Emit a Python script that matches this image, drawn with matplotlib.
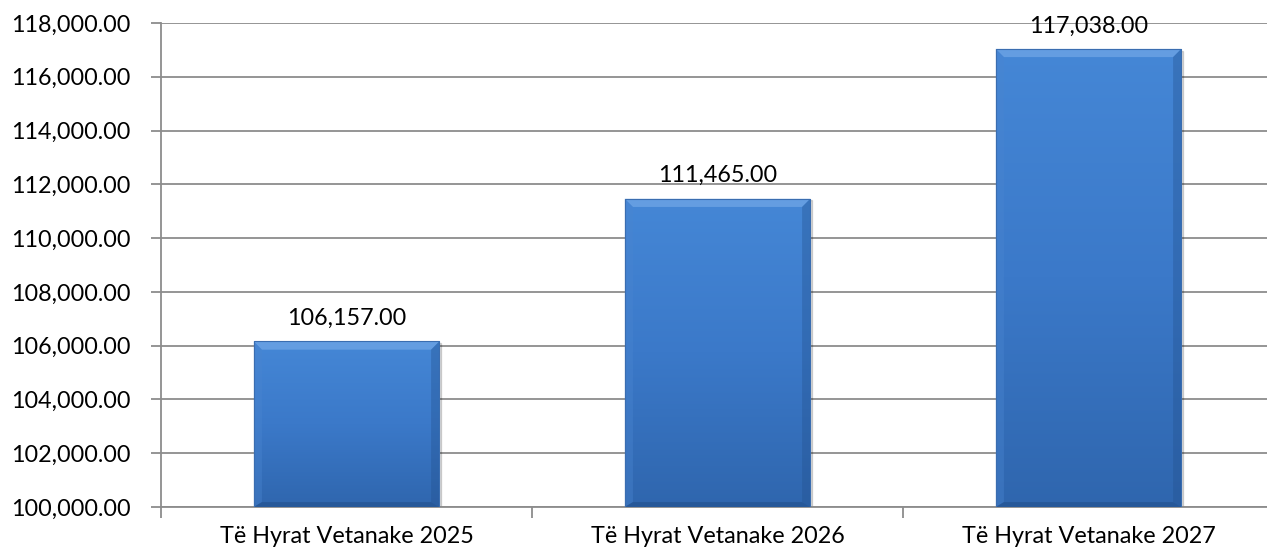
import numpy as np
import matplotlib.pyplot as plt
from matplotlib.patches import Polygon, Rectangle
from matplotlib.ticker import FuncFormatter

plt.rcParams['font.family'] = ['Lato', 'DejaVu Sans']

categories = ["Të Hyrat Vetanake 2025", "Të Hyrat Vetanake 2026", "Të Hyrat Vetanake 2027"]
values = [106157.00, 111465.00, 117038.00]
ymin, ymax, ystep = 100000, 118000, 2000

fig = plt.figure(figsize=(12.67, 5.5), dpi=100)
ax = fig.add_axes([161/1267, 1 - 507/550, (1274 - 161)/1267, (507 - 23)/550])

fs = 16.8
ax.set_xlim(-0.5, 2.5)
ax.set_ylim(ymin, ymax)
ax.set_yticks(np.arange(ymin, ymax + 1, ystep))
ax.yaxis.set_major_formatter(FuncFormatter(lambda v, p: "{:,.2f}".format(v)))
ax.set_xticks(range(len(categories)))
ax.set_xticklabels(categories)
ax.set_xticks([-0.5, 0.5, 1.5, 2.5], minor=True)
ax.tick_params(axis='x', which='major', length=0, labelsize=fs, pad=14)
ax.tick_params(axis='x', which='minor', length=8, color='#8c8c8c', width=1.3)
ax.tick_params(axis='y', length=7, color='#8c8c8c', width=1.3, labelsize=fs, pad=15)
ax.grid(axis='y', color='#8c8c8c', lw=1.3)
ax.set_axisbelow(True)
for s in ['top', 'right']:
    ax.spines[s].set_visible(False)
ax.spines['left'].set_color('#8c8c8c')
ax.spines['bottom'].set_color('#8c8c8c')
ax.spines['left'].set_linewidth(1.3)
ax.spines['bottom'].set_linewidth(1.3)

w = 0.5
grad = np.linspace(0, 1, 256).reshape(-1, 1)
cmap = plt.matplotlib.colors.LinearSegmentedColormap.from_list('b', ['#2f66ae', '#3b79c9', '#4587d6'])
# bevel size in data units
bx = 0.022
by = (ymax - ymin) * 0.017
for i, v in enumerate(values):
    x0, x1 = i - w/2, i + w/2
    # shadow
    ax.add_patch(Rectangle((x0 + 0.005, ymin), w, v - ymin - by*0.2, color='#000000', alpha=0.15, zorder=2))
    im = ax.imshow(grad, extent=[x0, x1, ymin, v], origin='lower', cmap=cmap,
                   aspect='auto', zorder=3)
    clip = Rectangle((x0, ymin), w, v - ymin, transform=ax.transData, facecolor='none', edgecolor='none')
    ax.add_patch(clip)
    im.set_clip_path(clip)
    # bevel edges
    top = Polygon([(x0, v), (x1, v), (x1 - bx, v - by), (x0 + bx, v - by)], color='#7aaeea', alpha=0.6, zorder=4, lw=0)
    left = Polygon([(x0, v), (x0 + bx, v - by), (x0 + bx, ymin + by*0.6), (x0, ymin)], color='#4a85d0', alpha=0.4, zorder=4, lw=0)
    right = Polygon([(x1, v), (x1 - bx, v - by), (x1 - bx, ymin + by*0.6), (x1, ymin)], color='#22508c', alpha=0.35, zorder=4, lw=0)
    bottom = Polygon([(x0, ymin), (x1, ymin), (x1 - bx, ymin + by*0.6), (x0 + bx, ymin + by*0.6)], color='#1f4c85', alpha=0.5, zorder=4, lw=0)
    for p in (top, left, right, bottom):
        ax.add_patch(p)
    ax.add_patch(Rectangle((x0, ymin), w, v - ymin, facecolor='none', edgecolor='#3a6db0', lw=0.8, zorder=5))
    ax.annotate("{:,.2f}".format(v), (i, v), xytext=(0, 9), textcoords='offset points',
                ha='center', va='bottom', fontsize=fs, zorder=6)

ax.set_xlim(-0.5, 2.5)
ax.set_ylim(ymin, ymax)

fig.savefig('out.png', dpi=100)
